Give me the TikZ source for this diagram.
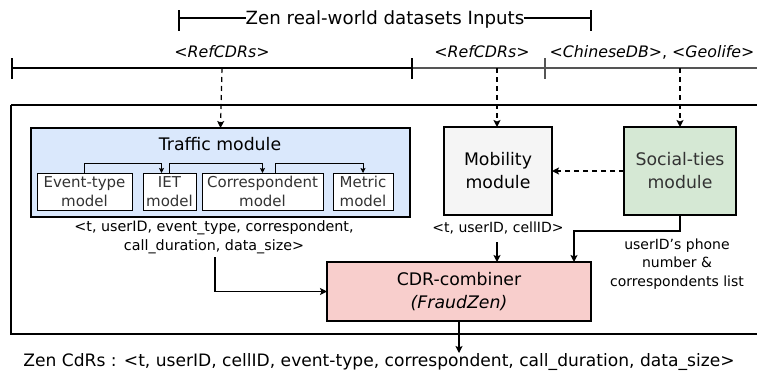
\documentclass[tikz,border=0pt]{standalone}
\usepackage{fontspec}
\setmainfont{DejaVu Sans}
\usetikzlibrary{arrows.meta}
\definecolor{tblue}{HTML}{DAE8FC}
\definecolor{mgray}{HTML}{F5F5F5}
\definecolor{sgreen}{HTML}{D5E8D4}
\definecolor{cpink}{HTML}{F8CECC}
\definecolor{ltxt}{HTML}{333333}
\definecolor{gline}{HTML}{555555}
\begin{document}
\begin{tikzpicture}[x=1pt,y=-1pt,
  every node/.style={inner sep=0pt, outer sep=0pt},
  txt/.style={font=\fontsize{14}{18.5}\selectfont, align=center},
  dtxt/.style={font=\fontsize{15.8}{18}\selectfont, align=center},
  modbox/.style={draw, line width=2.5pt, align=center, font=\fontsize{17.3}{23}\selectfont},
  subbox/.style={draw, line width=0.8pt, fill=white, align=center, text=ltxt, font=\fontsize{15}{19}\selectfont},
  arr/.style={line width=1.2pt, -{Stealth[length=7pt,width=7pt,inset=1.5pt]}},
  sarr/.style={line width=0.8pt, -{Stealth[length=5pt,width=5pt,inset=1pt]}},
  darr/.style={line width=1.2pt, dashed, dash pattern=on 5pt off 4pt, -{Stealth[length=7pt,width=7pt,inset=1.5pt]}},
  tick/.style={line width=2pt}
]
\useasboundingbox (0,0) rectangle (757,381);

% top bracket
\node[font=\fontsize{18.2}{20}\selectfont] (zen) at (385,19) {Zen real-world datasets Inputs};
\coordinate (zl) at (179,18);
\coordinate (zr) at (591,18);
\draw[tick] (179,10) -- (179,31);
\draw[tick] (591,10) -- (591,31);
\draw[line width=1.5pt] (zl) -- (zen.west |- zl);
\draw[line width=1.5pt] (zen.east |- zr) -- (zr);

% dataset ranges
\node[dtxt, font=\fontsize{15.8}{18}\selectfont\itshape] (ref1) at (222,52) {<RefCDRs>};
\node[dtxt, font=\fontsize{15.8}{18}\selectfont\itshape] (ref2) at (482,52) {<RefCDRs>};
\node[dtxt] (chin) at (652,52) {\textit{<ChineseDB>}, \textit{<Geolife>}};
\coordinate (a0) at (12,68);
\coordinate (a1) at (412,68);
\coordinate (a2) at (545,68);
\coordinate (a3) at (757,68);
\draw[line width=2pt] (a0) -- (a1);
\draw[line width=2pt, gline] (a1) -- (a2) -- (a3);
\draw[tick] (12,58) -- (12,79);
\draw[tick] (412,58) -- (412,79);
\draw[tick, gline] (545,58) -- (545,79);
\coordinate (d1) at (222,68);
\coordinate (d2) at (497,68);
\coordinate (d3) at (680,68);

% outer box
\draw[line width=2.7pt] (11,105) -- (770,105) (770,334) -- (11,334) -- (11,105);

% traffic module
\node[draw, line width=2.5pt, fill=tblue, minimum width=379pt, minimum height=89pt] (traffic) at (220.5,172.5) {};
\node[font=\fontsize{17.3}{20}\selectfont] (ttl) at (220,144) {Traffic module};
\node[subbox, minimum width=95pt, minimum height=37pt] (ev) at (84.5,191.5) {Event-type\\model};
\node[subbox, minimum width=53pt, minimum height=37pt] (iet) at (169.5,191.5) {IET\\model};
\node[subbox, minimum width=121pt, minimum height=37pt] (cor) at (262.5,191.5) {Correspondent\\model};
\node[subbox, minimum width=60pt, minimum height=37pt] (met) at (363,191.5) {Metric\\model};
\draw[sarr] (ev.north) -- ++(0,-10) -| ([xshift=-8pt]iet.north);
\draw[sarr] (iet.north) -- ++(0,-10) -| (cor.north);
\draw[sarr] ([xshift=13pt]cor.north) -- ++(0,-10) -| (met.north);

% other modules
\node[modbox, fill=mgray, minimum width=108pt, minimum height=88pt] (mob) at (498,171) {Mobility\\module};
\node[modbox, fill=sgreen, text=ltxt, minimum width=112pt, minimum height=88pt] (soc) at (680,171) {Social-ties\\module};

\draw[darr] (d1) -- (traffic.north);
\draw[darr] (d2) -- (d2 |- mob.north);
\draw[darr] (d3) -- (d3 |- soc.north);
\draw[darr] (soc.west) -- (mob.east);

% labels
\node[txt, font=\fontsize{14.3}{18.5}\selectfont] (tout) at (214,237) {<t, userID, event\_type, correspondent,\\call\_duration, data\_size>};
\node[txt] (mout) at (498,228) {<t, userID, cellID>};
\node[txt] (sout) at (677,264) {userID's phone\\number \&\\correspondents list};

% combiner
\node[modbox, fill=cpink, minimum width=264pt, minimum height=59pt] (cdr) at (459,291.5) {CDR-combiner\\\textit{(FraudZen)}};

\coordinate (t1) at (215,257);
\draw[arr] (t1) |- (cdr.west);
\coordinate (m1) at (497,242);
\draw[arr] (m1) -- (m1 |- cdr.north);
\coordinate (s1) at (574,231);
\draw[arr] (soc.south) |- (s1) -- (s1 |- cdr.north);

\node[font=\fontsize{17.1}{20}\selectfont] (zcdr) at (379,362) {Zen CdRs : <t, userID, cellID, event-type, correspondent, call\_duration, data\_size>};
\draw[arr] (cdr.south) -- (459,353);
\end{tikzpicture}
\end{document}
